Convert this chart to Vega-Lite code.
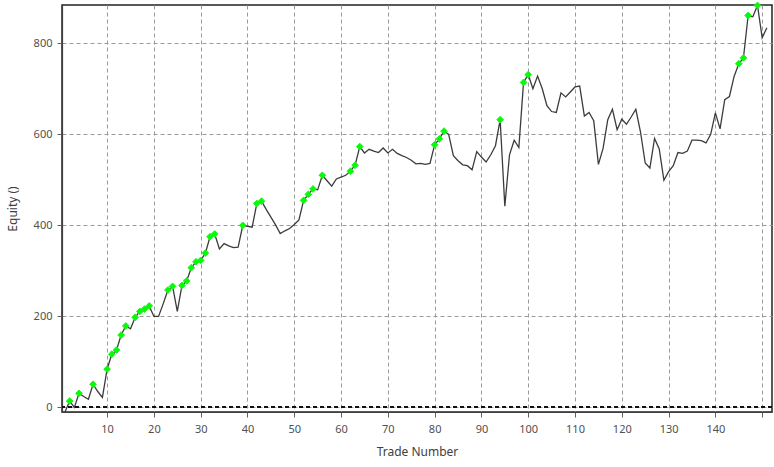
{
  "$schema": "https://vega.github.io/schema/vega-lite/v6.json",
  "width": 710,
  "height": 407,
  "autosize": {"type": "none"},
  "padding": {"left": 62, "top": 5, "right": 2, "bottom": 55},
  "background": "#ffffff",
  "config": {
    "view": {"stroke": "#222222", "strokeWidth": 1.5},
    "axis": {
      "labelFont": "Noto Sans",
      "labelFontSize": 11,
      "labelColor": "#505050",
      "titleFont": "Noto Sans",
      "titleFontSize": 12,
      "titleFontWeight": "normal",
      "titleColor": "#404040",
      "gridColor": "#9a9a9a",
      "gridDash": [4, 3],
      "gridWidth": 1,
      "domainColor": "#404040",
      "domainWidth": 1.2,
      "tickColor": "#606060",
      "tickSize": 5
    }
  },
  "data": {
    "values": [
      {"trade": 1, "equity": -10, "high": 0},
      {"trade": 2, "equity": 14, "high": 1},
      {"trade": 3, "equity": 0, "high": 0},
      {"trade": 4, "equity": 31, "high": 1},
      {"trade": 5, "equity": 24, "high": 0},
      {"trade": 6, "equity": 18, "high": 0},
      {"trade": 7, "equity": 51, "high": 1},
      {"trade": 8, "equity": 35, "high": 0},
      {"trade": 9, "equity": 22, "high": 0},
      {"trade": 10, "equity": 84, "high": 1},
      {"trade": 11, "equity": 117, "high": 1},
      {"trade": 12, "equity": 126, "high": 1},
      {"trade": 13, "equity": 159, "high": 1},
      {"trade": 14, "equity": 179, "high": 1},
      {"trade": 15, "equity": 173, "high": 0},
      {"trade": 16, "equity": 198, "high": 1},
      {"trade": 17, "equity": 211, "high": 1},
      {"trade": 18, "equity": 216, "high": 1},
      {"trade": 19, "equity": 223, "high": 1},
      {"trade": 20, "equity": 200, "high": 0},
      {"trade": 21, "equity": 200, "high": 0},
      {"trade": 22, "equity": 228, "high": 0},
      {"trade": 23, "equity": 258, "high": 1},
      {"trade": 24, "equity": 266, "high": 1},
      {"trade": 25, "equity": 211, "high": 0},
      {"trade": 26, "equity": 268, "high": 1},
      {"trade": 27, "equity": 278, "high": 1},
      {"trade": 28, "equity": 307, "high": 1},
      {"trade": 29, "equity": 320, "high": 1},
      {"trade": 30, "equity": 323, "high": 1},
      {"trade": 31, "equity": 339, "high": 1},
      {"trade": 32, "equity": 375, "high": 1},
      {"trade": 33, "equity": 381, "high": 1},
      {"trade": 34, "equity": 348, "high": 0},
      {"trade": 35, "equity": 360, "high": 0},
      {"trade": 36, "equity": 355, "high": 0},
      {"trade": 37, "equity": 351, "high": 0},
      {"trade": 38, "equity": 352, "high": 0},
      {"trade": 39, "equity": 400, "high": 1},
      {"trade": 40, "equity": 398, "high": 0},
      {"trade": 41, "equity": 396, "high": 0},
      {"trade": 42, "equity": 448, "high": 1},
      {"trade": 43, "equity": 453, "high": 1},
      {"trade": 44, "equity": 435, "high": 0},
      {"trade": 45, "equity": 418, "high": 0},
      {"trade": 46, "equity": 401, "high": 0},
      {"trade": 47, "equity": 382, "high": 0},
      {"trade": 48, "equity": 388, "high": 0},
      {"trade": 49, "equity": 393, "high": 0},
      {"trade": 50, "equity": 402, "high": 0},
      {"trade": 51, "equity": 412, "high": 0},
      {"trade": 52, "equity": 455, "high": 1},
      {"trade": 53, "equity": 468, "high": 1},
      {"trade": 54, "equity": 480, "high": 1},
      {"trade": 55, "equity": 478, "high": 0},
      {"trade": 56, "equity": 510, "high": 1},
      {"trade": 57, "equity": 498, "high": 0},
      {"trade": 58, "equity": 486, "high": 0},
      {"trade": 59, "equity": 502, "high": 0},
      {"trade": 60, "equity": 506, "high": 0},
      {"trade": 61, "equity": 510, "high": 0},
      {"trade": 62, "equity": 519, "high": 1},
      {"trade": 63, "equity": 532, "high": 1},
      {"trade": 64, "equity": 573, "high": 1},
      {"trade": 65, "equity": 559, "high": 0},
      {"trade": 66, "equity": 567, "high": 0},
      {"trade": 67, "equity": 563, "high": 0},
      {"trade": 68, "equity": 560, "high": 0},
      {"trade": 69, "equity": 570, "high": 0},
      {"trade": 70, "equity": 559, "high": 0},
      {"trade": 71, "equity": 567, "high": 0},
      {"trade": 72, "equity": 558, "high": 0},
      {"trade": 73, "equity": 553, "high": 0},
      {"trade": 74, "equity": 549, "high": 0},
      {"trade": 75, "equity": 543, "high": 0},
      {"trade": 76, "equity": 535, "high": 0},
      {"trade": 77, "equity": 536, "high": 0},
      {"trade": 78, "equity": 534, "high": 0},
      {"trade": 79, "equity": 536, "high": 0},
      {"trade": 80, "equity": 577, "high": 1},
      {"trade": 81, "equity": 590, "high": 1},
      {"trade": 82, "equity": 607, "high": 1},
      {"trade": 83, "equity": 600, "high": 0},
      {"trade": 84, "equity": 553, "high": 0},
      {"trade": 85, "equity": 542, "high": 0},
      {"trade": 86, "equity": 533, "high": 0},
      {"trade": 87, "equity": 531, "high": 0},
      {"trade": 88, "equity": 522, "high": 0},
      {"trade": 89, "equity": 562, "high": 0},
      {"trade": 90, "equity": 550, "high": 0},
      {"trade": 91, "equity": 539, "high": 0},
      {"trade": 92, "equity": 555, "high": 0},
      {"trade": 93, "equity": 575, "high": 0},
      {"trade": 94, "equity": 632, "high": 1},
      {"trade": 95, "equity": 442, "high": 0},
      {"trade": 96, "equity": 555, "high": 0},
      {"trade": 97, "equity": 587, "high": 0},
      {"trade": 98, "equity": 571, "high": 0},
      {"trade": 99, "equity": 714, "high": 1},
      {"trade": 100, "equity": 731, "high": 1},
      {"trade": 101, "equity": 700, "high": 0},
      {"trade": 102, "equity": 728, "high": 0},
      {"trade": 103, "equity": 700, "high": 0},
      {"trade": 104, "equity": 663, "high": 0},
      {"trade": 105, "equity": 650, "high": 0},
      {"trade": 106, "equity": 648, "high": 0},
      {"trade": 107, "equity": 691, "high": 0},
      {"trade": 108, "equity": 682, "high": 0},
      {"trade": 109, "equity": 693, "high": 0},
      {"trade": 110, "equity": 704, "high": 0},
      {"trade": 111, "equity": 706, "high": 0},
      {"trade": 112, "equity": 640, "high": 0},
      {"trade": 113, "equity": 648, "high": 0},
      {"trade": 114, "equity": 630, "high": 0},
      {"trade": 115, "equity": 534, "high": 0},
      {"trade": 116, "equity": 569, "high": 0},
      {"trade": 117, "equity": 632, "high": 0},
      {"trade": 118, "equity": 655, "high": 0},
      {"trade": 119, "equity": 610, "high": 0},
      {"trade": 120, "equity": 633, "high": 0},
      {"trade": 121, "equity": 622, "high": 0},
      {"trade": 122, "equity": 638, "high": 0},
      {"trade": 123, "equity": 655, "high": 0},
      {"trade": 124, "equity": 605, "high": 0},
      {"trade": 125, "equity": 537, "high": 0},
      {"trade": 126, "equity": 526, "high": 0},
      {"trade": 127, "equity": 591, "high": 0},
      {"trade": 128, "equity": 568, "high": 0},
      {"trade": 129, "equity": 499, "high": 0},
      {"trade": 130, "equity": 518, "high": 0},
      {"trade": 131, "equity": 531, "high": 0},
      {"trade": 132, "equity": 560, "high": 0},
      {"trade": 133, "equity": 558, "high": 0},
      {"trade": 134, "equity": 563, "high": 0},
      {"trade": 135, "equity": 587, "high": 0},
      {"trade": 136, "equity": 587, "high": 0},
      {"trade": 137, "equity": 586, "high": 0},
      {"trade": 138, "equity": 581, "high": 0},
      {"trade": 139, "equity": 600, "high": 0},
      {"trade": 140, "equity": 647, "high": 0},
      {"trade": 141, "equity": 612, "high": 0},
      {"trade": 142, "equity": 676, "high": 0},
      {"trade": 143, "equity": 683, "high": 0},
      {"trade": 144, "equity": 727, "high": 0},
      {"trade": 145, "equity": 755, "high": 1},
      {"trade": 146, "equity": 768, "high": 1},
      {"trade": 147, "equity": 861, "high": 1},
      {"trade": 148, "equity": 858, "high": 0},
      {"trade": 149, "equity": 883, "high": 1},
      {"trade": 150, "equity": 812, "high": 0},
      {"trade": 151, "equity": 834, "high": 0}
    ]
  },
  "layer": [
    {
      "mark": {"type": "line", "color": "#3c3c3c", "strokeWidth": 1.3},
      "encoding": {
        "x": {
          "field": "trade",
          "type": "quantitative",
          "scale": {"domain": [0.36, 152.1], "nice": false, "zero": false},
          "axis": {
            "title": "Trade Number",
            "values": [10, 20, 30, 40, 50, 60, 70, 80, 90, 100, 110, 120, 130, 140, 150],
            "labelExpr": "datum.value == 150 ? '' : datum.label",
            "labelPadding": 6,
            "titlePadding": 12,
            "labelFlush": false
          }
        },
        "y": {
          "field": "equity",
          "type": "quantitative",
          "scale": {"domain": [-10, 884], "nice": false, "zero": false},
          "axis": {
            "title": "Equity ()",
            "values": [0, 200, 400, 600, 800],
            "labelPadding": 5,
            "titlePadding": 14
          }
        }
      }
    },
    {
      "mark": {"type": "rule", "color": "#111111", "strokeWidth": 1.3, "strokeDash": [4, 3]},
      "encoding": {"y": {"datum": 0}}
    },
    {
      "transform": [{"filter": "datum.high == 1"}],
      "mark": {"type": "point", "shape": "diamond", "filled": true, "color": "#00ff00", "size": 45, "opacity": 1, "stroke": "#22ee22", "strokeWidth": 1},
      "encoding": {
        "x": {"field": "trade", "type": "quantitative"},
        "y": {"field": "equity", "type": "quantitative"}
      }
    }
  ]
}
